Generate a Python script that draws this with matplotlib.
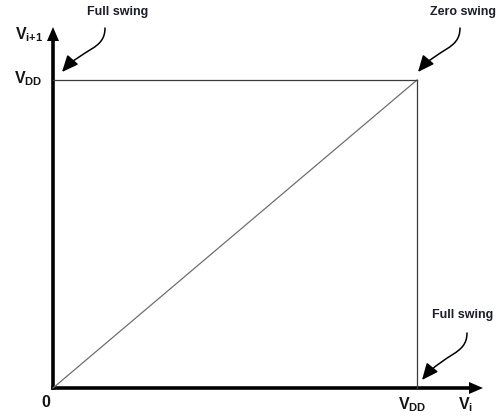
import matplotlib
matplotlib.use('Agg')
import matplotlib.pyplot as plt
from matplotlib.path import Path
from matplotlib.patches import FancyArrowPatch
from matplotlib.transforms import Affine2D, ScaledTranslation

plt.rcParams['font.family'] = ['Liberation Sans', 'DejaVu Sans']
plt.rcParams['mathtext.fontset'] = 'custom'
plt.rcParams['mathtext.rm'] = 'Liberation Sans:bold'
plt.rcParams['mathtext.it'] = 'Liberation Sans:bold'
plt.rcParams['mathtext.bf'] = 'Liberation Sans:bold'

# data: V_{i+1} against V_i, normalised to VDD
vdd = 1.0
diag_x = [0, vdd]
diag_y = [0, vdd]
top_x = [0, vdd]
top_y = [vdd, vdd]
right_x = [vdd, vdd]
right_y = [0, vdd]

notes = ['Full swing', 'Zero swing', 'Full swing']
note_points = [(0, vdd), (vdd, vdd), (vdd, 0)]

# layout in pixels (offsets from the annotated point, y down)
note_text_off = [(34, 65), (13, 65), (15, 70)]
note_paths = [
    [(52, -52), (52, -30), (30, -32), (9, -8)],
    [(43, -52), (43, -30), (21, -32), (1, -8)],
    [(50, -55), (50, -33), (27, -35), (5, -8)],
]

W, H = 497, 419
x0, y0 = 53, 388          # origin pixel
sx, sy = 364, 308         # pixels per VDD

fig = plt.figure(figsize=(W / 100, H / 100), dpi=100)
ax = fig.add_axes([0, 0, 1, 1])
ax.set_xlim(-x0 / sx, (W - x0) / sx)
ax.set_ylim(-(H - y0) / sy, y0 / sy)
ax.axis('off')

ax.plot(diag_x, diag_y, color='#6e6e6e', lw=0.9)
ax.plot(top_x, top_y, color='#3c3c3c', lw=0.9)
ax.plot(right_x, right_y, color='#3c3c3c', lw=0.9)

# thick axes with arrow heads
lw_px, hw_px, hl_px = 3.6, 12, 14
x_end = (483 - x0) / sx
y_end = (y0 - 27) / sy
ax.arrow(-lw_px / 2 / sx, 0, x_end + lw_px / 2 / sx, 0, width=lw_px / sy,
         head_width=hw_px / sy, head_length=hl_px / sx,
         length_includes_head=True, color='black', lw=0)
ax.arrow(0, -lw_px / 2 / sy, 0, y_end + lw_px / 2 / sy, width=lw_px / sx,
         head_width=hw_px / sx, head_length=hl_px / sy,
         length_includes_head=True, color='black', lw=0)

txt = '#151515'
ax.text(-10 / sx, 1.133, r'$\mathrm{V}_{\mathrm{i{+}1}}$', fontsize=11.5,
        ha='right', va='baseline', color=txt)
ax.text(-10 / sx, vdd - 3 / sy, r'$\mathrm{V}_{\mathrm{DD}}$', fontsize=11.5,
        ha='right', va='baseline', color=txt)
ax.text(-7 / sx, -19 / sy, '0', fontsize=11.5, fontweight='bold',
        ha='center', va='baseline', color=txt)
ax.text(vdd - 5 / sx, -21 / sy, r'$\mathrm{V}_{\mathrm{DD}}$', fontsize=11.5,
        ha='center', va='baseline', color=txt)
ax.text((458 - x0) / sx, -21 / sy, r'$\mathrm{V}_{\mathrm{i}}$', fontsize=11.5,
        ha='left', va='baseline', color=txt)

for label, pt, toff, pts in zip(notes, note_points, note_text_off, note_paths):
    ax.annotate(label, xy=pt, xytext=toff, textcoords='offset pixels',
                fontsize=9, fontweight='bold', color='#1c1c2c',
                ha='left', va='baseline')
    path = Path(pts, [Path.MOVETO, Path.CURVE4, Path.CURVE4, Path.CURVE4])
    tr = Affine2D().scale(1, -1) + ScaledTranslation(pt[0], pt[1], ax.transData)
    arr = FancyArrowPatch(path=path, arrowstyle='-|>,head_length=0.5,head_width=0.22',
                          mutation_scale=20, color='black', lw=1.1, transform=tr)
    ax.add_patch(arr)

fig.savefig('out.png', dpi=100)
